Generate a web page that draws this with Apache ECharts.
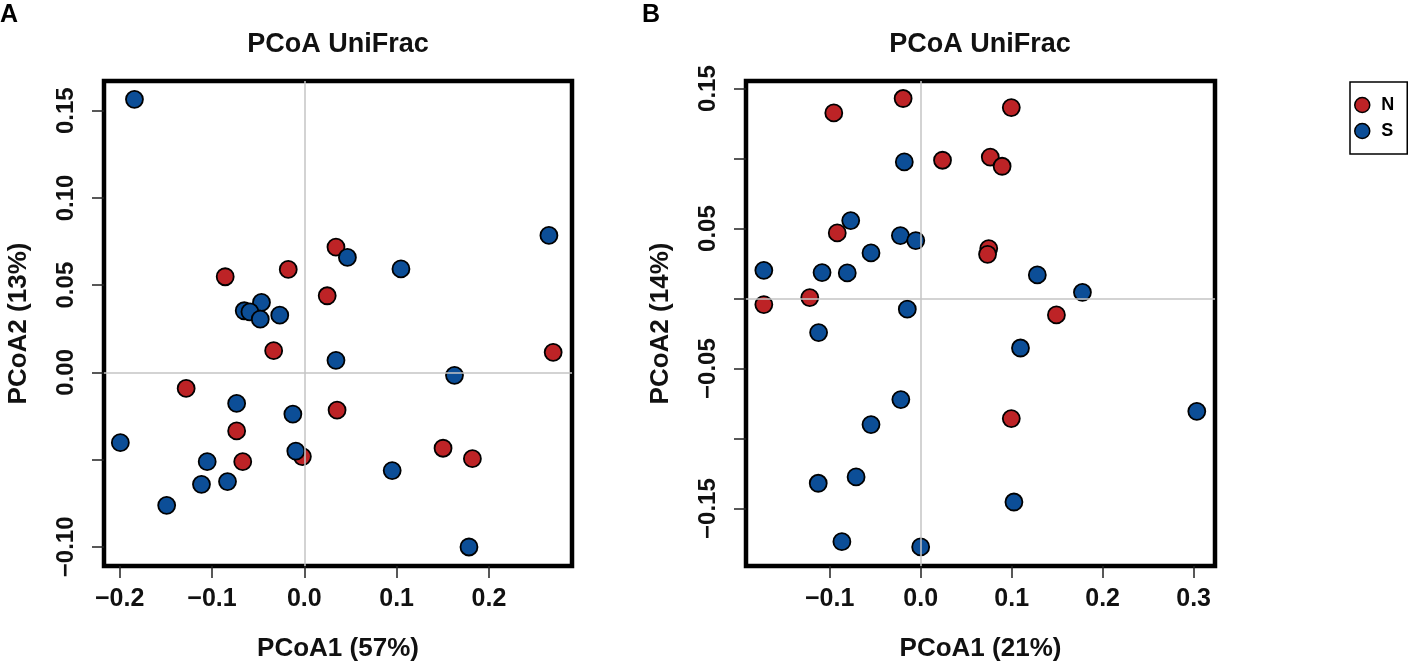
<!DOCTYPE html>
<html>
<head>
<meta charset="utf-8">
<script src="https://cdn.jsdelivr.net/npm/echarts@6/dist/echarts.min.js"></script>
<style>
  html, body { margin: 0; padding: 0; background: #fff; }
  #main { width: 1418px; height: 667px; }
</style>
</head>
<body>
<div id="main"></div>
<script>
// panel A (PCoA1 57% / PCoA2 13%)
var aN = [[0.0343,0.0718],[-0.0174,0.059],[-0.0857,0.0548],[0.0248,0.0439],[-0.0332,0.0124],
          [0.2696,0.0115],[-0.128,-0.0092],[0.0355,-0.0216],[-0.0733,-0.0336],[-0.0021,-0.0483],
          [0.1503,-0.0435],[0.1821,-0.0495],[-0.0667,-0.0512]];
var aS = [[-0.184,0.1565],[0.265,0.0785],[0.0467,0.0659],[0.1047,0.0593],[-0.0464,0.0401],
          [-0.0651,0.0353],[-0.0589,0.0347],[-0.0266,0.0328],[-0.0477,0.0305],[0.0343,0.0069],
          [0.1627,-0.0017],[-0.0733,-0.0178],[-0.0124,-0.0239],[-0.1993,-0.0403],[-0.0092,-0.0451],
          [-0.1052,-0.0512],[0.0952,-0.0563],[-0.1114,-0.0642],[-0.0832,-0.0626],[-0.1491,-0.0762],
          [0.1784,-0.1001]];
// panel B (PCoA1 21% / PCoA2 14%)
var bN = [[-0.0955,0.1326],[-0.0193,0.1429],[0.0996,0.1364],[0.024,0.0988],[0.0765,0.1011],
          [0.0895,0.0945],[-0.0917,0.0469],[0.0748,0.0357],[0.0735,0.0316],[-0.1219,0.0007],
          [-0.1724,-0.0043],[0.1492,-0.0117],[0.0996,-0.0857]];
var bS = [[-0.018,0.0976],[-0.0769,0.0557],[-0.0223,0.045],[-0.0054,0.0414],[-0.0546,0.0326],
          [-0.1724,0.0202],[-0.1084,0.0186],[-0.0807,0.0183],[0.1282,0.0169],[0.1778,0.0045],
          [-0.0147,-0.0076],[-0.1122,-0.0243],[0.1097,-0.0353],[-0.0218,-0.0721],[0.3035,-0.0805],
          [-0.0546,-0.09],[-0.071,-0.1274],[-0.1126,-0.1319],[0.1025,-0.1453],[-0.0866,-0.1736],
          [0.0,-0.1774]];

// ticks and labels
var aXTicks = [-0.2, -0.1, 0, 0.1, 0.2];
var aYTicks = [-0.10, -0.05, 0, 0.05, 0.10, 0.15];
var aYLabels = [-0.10, 0, 0.05, 0.10, 0.15];
var bXTicks = [-0.1, 0, 0.1, 0.2, 0.3];
var bYTicks = [-0.15, -0.10, -0.05, 0, 0.05, 0.10, 0.15];
var bYLabels = [-0.15, -0.05, 0.05, 0.15];

var FONT = '"Liberation Sans", Arial, Helvetica, sans-serif';
var RED = '#bd2326', BLUE = '#0c4e97';

function fmt(d) {
    return function (v) { return v.toFixed(d).replace('-', '\u2212'); };
}

function xAxisOf(idx, name, min, max, ticks) {
    return {
        type: 'value', gridIndex: idx, min: min, max: max, position: 'bottom',
        name: name, nameLocation: 'middle', nameGap: 70,
        nameTextStyle: { fontFamily: FONT, fontWeight: 'bold', fontSize: 26, color: '#111' },
        axisLine: { show: false, onZero: false },
        axisTick: { show: true, length: 12, customValues: ticks, lineStyle: { color: '#222', width: 1.5 } },
        axisLabel: { customValues: ticks, margin: 21, formatter: fmt(1),
            fontFamily: FONT, fontWeight: 'bold', fontSize: 25, color: '#111' },
        splitLine: { show: false }
    };
}

function yAxisOf(idx, name, min, max, ticks, labels) {
    return {
        type: 'value', gridIndex: idx, min: min, max: max, position: 'left',
        name: name, nameLocation: 'middle', nameGap: 72,
        nameTextStyle: { fontFamily: FONT, fontWeight: 'bold', fontSize: 26, color: '#111' },
        axisLine: { show: false, onZero: false },
        axisTick: { show: true, length: 12, customValues: ticks, lineStyle: { color: '#222', width: 1.5 } },
        axisLabel: { customValues: labels, rotate: 90, margin: 26, formatter: fmt(2),
            fontFamily: FONT, fontWeight: 'bold', fontSize: 24, color: '#111' },
        splitLine: { show: false }
    };
}

function pts(name, data, color, idx) {
    return {
        name: name, type: 'scatter', xAxisIndex: idx, yAxisIndex: idx,
        data: data, symbol: 'circle', symbolSize: 17, z: 3,
        itemStyle: { color: color, borderColor: '#000', borderWidth: 1.8, opacity: 1 }
    };
}

// zero reference lines
function zeroLines(idx) {
    return {
        name: 'zero', type: 'scatter', xAxisIndex: idx, yAxisIndex: idx, data: [], z: 1,
        markLine: {
            silent: true, symbol: ['none', 'none'], label: { show: false },
            lineStyle: { color: '#c4c4c4', type: 'solid', width: 1.5 },
            data: [{ xAxis: 0 }, { yAxis: 0 }]
        }
    };
}

var myChart = echarts.init(document.getElementById('main'));

myChart.setOption({
    animation: false,
    title: [
        { text: 'A', left: 0, top: 3, padding: 0, textStyle: { fontFamily: FONT, fontWeight: 'bold', fontSize: 25, color: '#000' } },
        { text: 'B', left: 642, top: 3, padding: 0, textStyle: { fontFamily: FONT, fontWeight: 'bold', fontSize: 25, color: '#000' } },
        { text: 'PCoA UniFrac', left: 338, top: 31, padding: 0, textAlign: 'center',
          textStyle: { fontFamily: FONT, fontWeight: 'bold', fontSize: 27, color: '#111' } },
        { text: 'PCoA UniFrac', left: 980, top: 31, padding: 0, textAlign: 'center',
          textStyle: { fontFamily: FONT, fontWeight: 'bold', fontSize: 27, color: '#111' } }
    ],
    legend: {
        data: ['N', 'S'], orient: 'vertical', left: 1350, top: 82,
        padding: [14, 13, 14, 4], itemGap: 8, itemWidth: 28, itemHeight: 15,
        borderColor: '#000', borderWidth: 1.5, icon: 'circle',
        itemStyle: { borderColor: '#000', borderWidth: 1.5 },
        textStyle: { fontFamily: FONT, fontWeight: 'bold', fontSize: 18, color: '#000' }
    },
    grid: [
        { left: 104, top: 81, width: 468, height: 485, show: true, borderColor: '#000', borderWidth: 4.5, backgroundColor: 'transparent' },
        { left: 746, top: 81, width: 469, height: 485, show: true, borderColor: '#000', borderWidth: 4.5, backgroundColor: 'transparent' }
    ],
    xAxis: [
        xAxisOf(0, 'PCoA1 (57%)', -0.217, 0.290, aXTicks),
        xAxisOf(1, 'PCoA1 (21%)', -0.192, 0.3235, bXTicks)
    ],
    yAxis: [
        yAxisOf(0, 'PCoA2 (13%)', -0.111, 0.167, aYTicks, aYLabels),
        yAxisOf(1, 'PCoA2 (14%)', -0.191, 0.1554, bYTicks, bYLabels)
    ],
    series: [
        zeroLines(0),
        zeroLines(1),
        pts('N', aN, RED, 0),
        pts('S', aS, BLUE, 0),
        pts('N', bN, RED, 1),
        pts('S', bS, BLUE, 1)
    ]
});
</script>
</body>
</html>
